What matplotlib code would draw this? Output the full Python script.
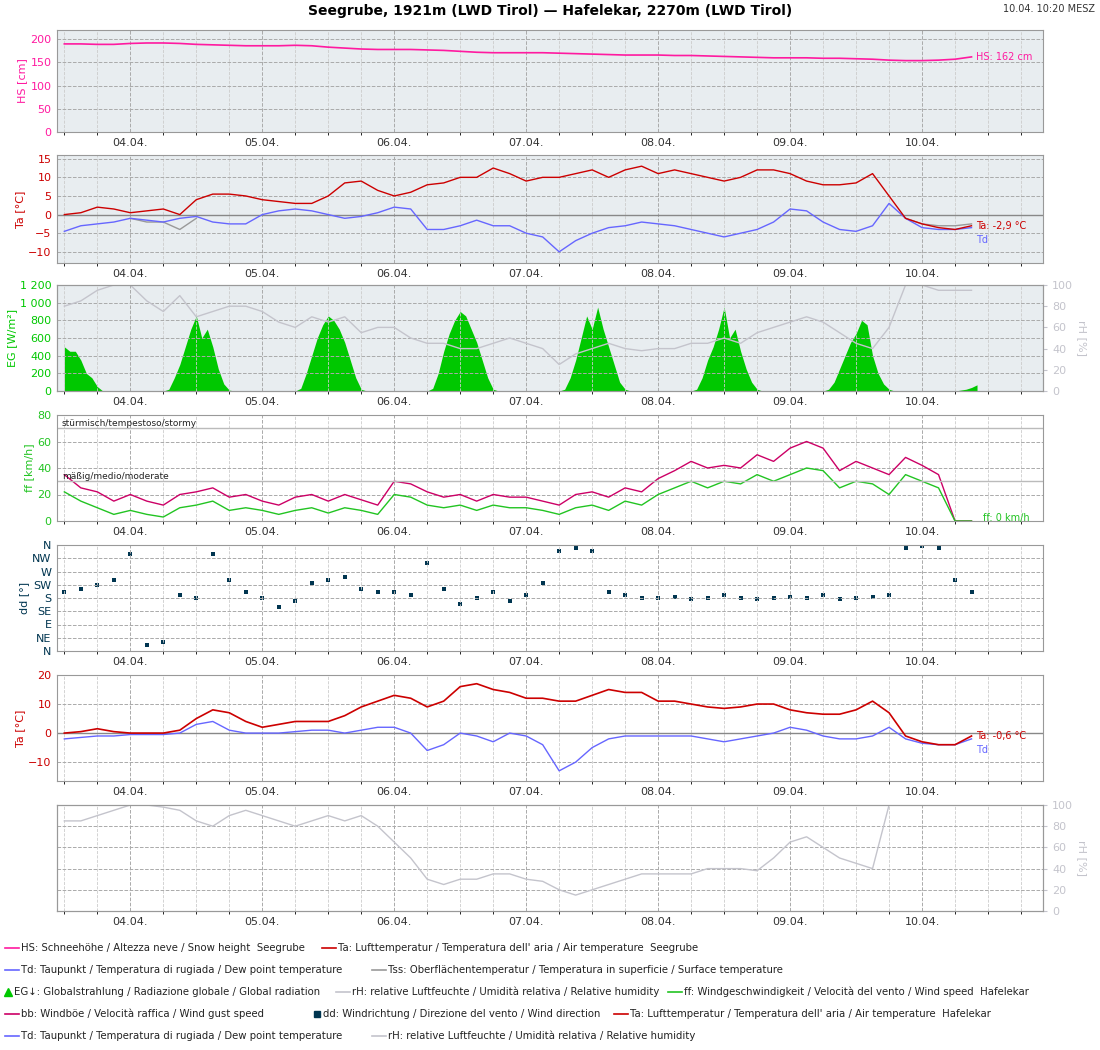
import matplotlib
matplotlib.use('Agg')
import matplotlib.pyplot as plt
import matplotlib.dates as mdates
from matplotlib.lines import Line2D
import numpy as np
from datetime import datetime, timedelta

# --- data (3-hourly, starting 03.04. 12:00) ---
hs = [190, 190, 189, 189,
      191, 192, 192, 191, 189, 188, 187, 186,
      186, 186, 187, 186, 183, 181, 179, 178,
      178, 178, 177, 176, 174, 172, 171, 171,
      171, 171, 170, 169, 168, 167, 166, 166,
      166, 165, 165, 164, 163, 162, 161, 160,
      160, 160, 159, 159, 158, 157, 155, 154,
      154, 155, 157, 162]
ta_see = [0, 0.5, 2, 1.5,
          0.5, 1, 1.5, 0, 4, 5.5, 5.5, 5,
          4, 3.5, 3, 3, 5, 8.5, 9, 6.5,
          5, 6, 8, 8.5, 10, 10, 12.5, 11,
          9, 10, 10, 11, 12, 10, 12, 13,
          11, 12, 11, 10, 9, 10, 12, 12,
          11, 9, 8, 8, 8.5, 11, 5, -1,
          -2.5, -3.5, -4, -3]
td_see = [-4.5, -3, -2.5, -2,
          -1, -1.5, -2, -1, -0.5, -2, -2.5, -2.5,
          0, 1, 1.5, 1, 0, -1, -0.5, 0.5,
          2, 1.5, -4, -4, -3, -1.5, -3, -3,
          -5, -6, -10, -7, -5, -3.5, -3, -2,
          -2.5, -3, -4, -5, -6, -5, -4, -2,
          1.5, 1, -2, -4, -4.5, -3, 3, -1,
          -3.5, -4, -4, -3.5]
nan = np.nan
tss_see = [nan, nan, nan, nan,
           -1, -2, -2, -4, -1, nan, nan, nan,
           nan, nan, nan, nan, nan, nan, nan, nan,
           nan, nan, nan, nan, nan, nan, nan, nan,
           nan, nan, nan, nan, nan, nan, nan, nan,
           nan, nan, nan, nan, nan, nan, nan, nan,
           nan, nan, nan, nan, nan, nan, nan, -1,
           -2.5, -3, -3, -2.5]
rh_see = [80, 85, 95, 100,
          100, 85, 75, 90, 70, 75, 80, 80,
          75, 65, 60, 70, 65, 70, 55, 60,
          60, 50, 45, 45, 40, 40, 45, 50,
          45, 40, 25, 35, 40, 45, 40, 38,
          40, 40, 45, 45, 50, 45, 55, 60,
          65, 70, 65, 55, 45, 40, 60, 100,
          100, 95, 95, 95]
ff = [22, 15, 10, 5,
      8, 5, 3, 10, 12, 15, 8, 10,
      8, 5, 8, 10, 6, 10, 8, 5,
      20, 18, 12, 10, 12, 8, 12, 10,
      10, 8, 5, 10, 12, 8, 15, 12,
      20, 25, 30, 25, 30, 28, 35, 30,
      35, 40, 38, 25, 30, 28, 20, 35,
      30, 25, 0, 0]
bb = [35, 25, 22, 15,
      20, 15, 12, 20, 22, 25, 18, 20,
      15, 12, 18, 20, 15, 20, 16, 12,
      30, 28, 22, 18, 20, 15, 20, 18,
      18, 15, 12, 20, 22, 18, 25, 22,
      32, 38, 45, 40, 42, 40, 50, 45,
      55, 60, 55, 38, 45, 40, 35, 48,
      42, 35, 0, 0]
dd = [200, 210, 225, 240,
      330, 20, 30, 190, 180, 330, 240, 200,
      180, 150, 170, 230, 240, 250, 210, 200,
      200, 190, 300, 210, 160, 180, 200, 170,
      190, 230, 340, 350, 340, 200, 190, 180,
      180, 185, 175, 180, 190, 180, 175, 180,
      185, 180, 190, 175, 180, 185, 190, 350,
      355, 350, 240, 200]
ta_haf = [0, 0.5, 1.5, 0.5,
          0, 0, 0, 1, 5, 8, 7, 4,
          2, 3, 4, 4, 4, 6, 9, 11,
          13, 12, 9, 11, 16, 17, 15, 14,
          12, 12, 11, 11, 13, 15, 14, 14,
          11, 11, 10, 9, 8.5, 9, 10, 10,
          8, 7, 6.5, 6.5, 8, 11, 7, -1,
          -3, -4, -4, -1]
td_haf = [-2, -1.5, -1, -1,
          -0.5, -0.5, -0.5, 0, 3, 4, 1, 0,
          0, 0, 0.5, 1, 1, 0, 1, 2,
          2, 0, -6, -4, 0, -1, -3, 0,
          -1, -4, -13, -10, -5, -2, -1, -1,
          -1, -1, -1, -2, -3, -2, -1, 0,
          2, 1, -1, -2, -2, -1, 2, -2,
          -3.5, -4, -4, -2]
rh_haf = [85, 85, 90, 95,
          100, 100, 98, 95, 85, 80, 90, 95,
          90, 85, 80, 85, 90, 85, 90, 80,
          65, 50, 30, 25, 30, 30, 35, 35,
          30, 28, 20, 15, 20, 25, 30, 35,
          35, 35, 35, 40, 40, 40, 38, 50,
          65, 70, 60, 50, 45, 40, 100, 100,
          100, 100, 100, 100]

# global radiation, hourly W/m2 during daylight
eg_0304 = [500, 450, 450, 350, 200, 150, 50, 0]            # 12..19 h
eg_days = [[0, 20, 150, 300, 500, 700, 850, 600, 700, 500, 250, 80, 10, 0],
           [0, 30, 200, 400, 600, 750, 850, 800, 700, 550, 350, 150, 20, 0],
           [0, 30, 200, 450, 650, 800, 900, 850, 700, 550, 350, 150, 20, 0],
           [0, 20, 150, 350, 600, 850, 700, 950, 700, 500, 300, 100, 20, 0],
           [0, 20, 150, 350, 500, 700, 950, 600, 700, 450, 250, 100, 20, 0],
           [0, 20, 100, 250, 400, 550, 650, 800, 750, 400, 200, 80, 20, 0]]  # 6..19 h, 04.04.-09.04.
eg_1004 = [0, 10, 20, 40, 70]                                # 6..10 h

# --- time axes ---
start = datetime(2024, 4, 3, 12)
t = [start + timedelta(hours=3 * k) for k in range(len(hs))]
eg_t, eg = [], []
for h, v in enumerate(eg_0304):
    eg_t.append(datetime(2024, 4, 3, 12 + h)); eg.append(v)
for d, day in enumerate(eg_days):
    base = datetime(2024, 4, 4 + d, 6)
    eg_t.append(base - timedelta(hours=10)); eg.append(0)
    for h, v in enumerate(day):
        eg_t.append(base + timedelta(hours=h)); eg.append(v)
eg_t.append(datetime(2024, 4, 10, 5)); eg.append(0)
for h, v in enumerate(eg_1004):
    eg_t.append(datetime(2024, 4, 10, 6 + h)); eg.append(v)

# --- styles ---
c_hs = '#ff1aa0'
c_ta = '#cc0000'
c_td = '#6666ff'
c_tss = '#999999'
c_eg = '#00c800'
c_rh = '#c4c4cc'
c_ff = '#22c422'
c_bb = '#cc0066'
c_dd = '#003550'
bg = '#e8edf0'
fs = 8

x0 = datetime(2024, 4, 3, 10, 40)
x1 = datetime(2024, 4, 10, 22, 0)

fig = plt.figure(figsize=(11, 10.5), dpi=100)
W, H = 1100.0, 1050.0
panels = [(30, 132), (155, 263), (285, 391), (415, 521), (545, 651), (675, 781), (805, 911)]
axes = []
for top, bot in panels:
    ax = fig.add_axes([57 / W, 1 - bot / H, (1043 - 57) / W, (bot - top) / H])
    ax.set_xlim(x0, x1)
    ax.xaxis.set_major_locator(mdates.DayLocator())
    ax.xaxis.set_major_formatter(mdates.DateFormatter('%d.%m.'))
    ax.xaxis.set_minor_locator(mdates.HourLocator(byhour=[6, 12, 18]))
    ax.grid(True, which='major', color='#aaaaaa', ls='--', lw=0.7)
    ax.grid(True, which='minor', axis='x', color='#cccccc', ls='--', lw=0.6)
    ax.tick_params(labelsize=fs, colors='#333333', length=0, pad=4)
    for s in ax.spines.values():
        s.set_color('#999999')
    axes.append(ax)

def label_axis(ax, text, color):
    ax.set_ylabel(text, color=color, fontsize=fs, labelpad=2)
    ax.tick_params(axis='y', labelcolor=color)

def rh_axis(ax, values):
    axr = ax.twinx()
    axr.plot(t, values, color=c_rh, lw=1)
    axr.set_ylim(0, 100)
    axr.set_yticks([0, 20, 40, 60, 80, 100])
    axr.set_xlim(x0, x1)
    axr.tick_params(labelsize=fs, colors=c_rh, length=3)
    axr.set_ylabel('rH [%]', color=c_rh, fontsize=fs, rotation=270, labelpad=10)
    for s in axr.spines.values():
        s.set_color('#999999')
    return axr

# 1: snow height
ax = axes[0]
ax.set_facecolor(bg)
ax.plot(t, hs, color=c_hs, lw=1.2)
ax.set_ylim(0, 220)
ax.set_yticks([0, 50, 100, 150, 200])
label_axis(ax, 'HS [cm]', c_hs)
ax.annotate('HS: %d cm' % hs[-1], (t[-1], hs[-1]), xytext=(3, 0), textcoords='offset points',
            color=c_hs, fontsize=7, va='center')

# 2: Seegrube temperatures
ax = axes[1]
ax.set_facecolor(bg)
ax.axhline(0, color='#888888', lw=1)
ax.plot(t, tss_see, color=c_tss, lw=1)
ax.plot(t, td_see, color=c_td, lw=1)
ax.plot(t, ta_see, color=c_ta, lw=1)
ax.set_ylim(-13, 16)
ax.set_yticks([-10, -5, 0, 5, 10, 15])
label_axis(ax, 'Ta [°C]', c_ta)
ax.annotate('Ta: -2,9 °C', (t[-1], ta_see[-1]), xytext=(3, 0), textcoords='offset points',
            color=c_ta, fontsize=7, va='center')
ax.annotate('Td', (t[-1], ta_see[-1]), xytext=(3, -10), textcoords='offset points',
            color=c_td, fontsize=7, va='center')

# 3: global radiation + rH
ax = axes[2]
ax.set_facecolor(bg)
ax.fill_between(eg_t, eg, color=c_eg, lw=0)
ax.set_ylim(0, 1200)
ax.set_yticks(range(0, 1201, 200))
ax.set_yticklabels(['0', '200', '400', '600', '800', '1 000', '1 200'])
label_axis(ax, 'EG [W/m²]', c_eg)
rh_axis(ax, rh_see)

# 4: wind speed
ax = axes[3]
ax.plot(t, bb, color=c_bb, lw=1)
ax.plot(t, ff, color=c_ff, lw=1)
ax.axhline(70, color='#bbbbbb', lw=1)
ax.axhline(30, color='#bbbbbb', lw=1)
ax.text(0.005, 72, 'stürmisch/tempestoso/stormy', transform=ax.get_yaxis_transform(),
        fontsize=6.5, color='#222222')
ax.text(0.005, 32, 'mäßig/medio/moderate', transform=ax.get_yaxis_transform(),
        fontsize=6.5, color='#222222')
ax.set_ylim(0, 80)
ax.set_yticks([0, 20, 40, 60, 80])
label_axis(ax, 'ff [km/h]', c_ff)
ax.annotate('ff: 0 km/h', (t[-1], ff[-1]), xytext=(8, 2), textcoords='offset points',
            color=c_ff, fontsize=7, va='center')

# 5: wind direction
ax = axes[4]
ax.scatter(t, dd, color=c_dd, marker='s', s=5, lw=0)
ax.set_ylim(0, 360)
ax.set_yticks(range(0, 361, 45))
ax.set_yticklabels(['N', 'NE', 'E', 'SE', 'S', 'SW', 'W', 'NW', 'N'])
label_axis(ax, 'dd [°]', c_dd)

# 6: Hafelekar temperatures
ax = axes[5]
ax.axhline(0, color='#888888', lw=1)
ax.plot(t, td_haf, color=c_td, lw=1)
ax.plot(t, ta_haf, color=c_ta, lw=1.2)
ax.set_ylim(-16.5, 20)
ax.set_yticks([-10, 0, 10, 20])
label_axis(ax, 'Ta [°C]', c_ta)
ax.annotate('Ta: -0,6 °C', (t[-1], ta_haf[-1]), xytext=(3, 0), textcoords='offset points',
            color=c_ta, fontsize=7, va='center')
ax.annotate('Td', (t[-1], ta_haf[-1]), xytext=(3, -10), textcoords='offset points',
            color=c_td, fontsize=7, va='center')

# 7: Hafelekar rH
ax = axes[6]
ax.set_ylim(0, 100)
ax.set_yticks([0, 20, 40, 60, 80, 100])
ax.tick_params(axis='y', labelleft=False)
rh_axis(ax, rh_haf)

# titles
fig.text(550 / W, 1 - 11 / H, 'Seegrube, 1921m (LWD Tirol) — Hafelekar, 2270m (LWD Tirol)',
         ha='center', va='center', fontsize=10, fontweight='bold')
fig.text(1095 / W, 1 - 9 / H, '10.04. 10:20 MESZ', ha='right', va='center', fontsize=7, color='#333333')

# manual legend
legend_rows = [
    (948, [(5, c_hs, 'line', 'HS: Schneehöhe / Altezza neve / Snow height  Seegrube'),
           (322, c_ta, 'line', 'Ta: Lufttemperatur / Temperatura dell\' aria / Air temperature  Seegrube')]),
    (970, [(5, c_td, 'line', 'Td: Taupunkt / Temperatura di rugiada / Dew point temperature'),
           (372, c_tss, 'line', 'Tss: Oberflächentemperatur / Temperatura in superficie / Surface temperature')]),
    (992, [(5, c_eg, 'tri', 'EG↓: Globalstrahlung / Radiazione globale / Global radiation'),
           (336, c_rh, 'line', 'rH: relative Luftfeuchte / Umidità relativa / Relative humidity'),
           (668, c_ff, 'line', 'ff: Windgeschwindigkeit / Velocità del vento / Wind speed  Hafelekar')]),
    (1014, [(5, c_bb, 'line', 'bb: Windböe / Velocità raffica / Wind gust speed'),
            (314, c_dd, 'sq', 'dd: Windrichtung / Direzione del vento / Wind direction'),
            (614, c_ta, 'line', 'Ta: Lufttemperatur / Temperatura dell\' aria / Air temperature  Hafelekar')]),
    (1036, [(5, c_td, 'line', 'Td: Taupunkt / Temperatura di rugiada / Dew point temperature'),
            (372, c_rh, 'line', 'rH: relative Luftfeuchte / Umidità relativa / Relative humidity')]),
]
for y, items in legend_rows:
    yf = 1 - y / H
    for x, col, kind, txt in items:
        if kind == 'line':
            fig.add_artist(Line2D([x / W, (x + 14) / W], [yf, yf], color=col, lw=1.2))
            tx = x + 16
        else:
            m = '^' if kind == 'tri' else 's'
            fig.add_artist(Line2D([(x + 3) / W], [yf], marker=m, color=col, ms=6 if m == '^' else 4, lw=0))
            tx = x + 9
        fig.text(tx / W, yf, txt, fontsize=7.3, va='center', color='#222222')

fig.savefig('out.png', dpi=100)
